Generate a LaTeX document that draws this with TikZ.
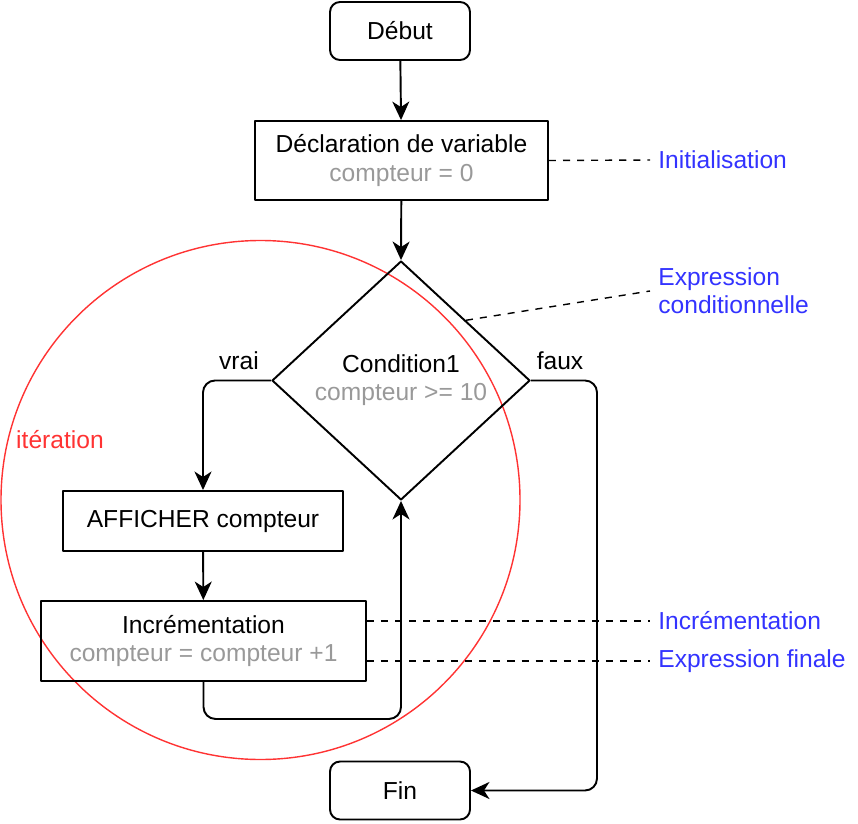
\documentclass[tikz,border=0pt]{standalone}
\usepackage{fontspec}
\setmainfont{Liberation Sans}
\usepackage[usenames]{xcolor}
\usetikzlibrary{arrows.meta,shapes.geometric,calc}
\definecolor{txtgrey}{HTML}{999999}
\definecolor{notablue}{HTML}{3333FF}
\definecolor{looped}{HTML}{FF3333}
\tikzset{
  etape/.style={draw,line width=1.1pt,minimum width=5.86cm,minimum height=1.58cm,align=center,inner sep=0pt},
  borne/.style={draw,line width=1.1pt,rounded corners=0.2cm,minimum width=2.8cm,minimum height=1.16cm,inner sep=0pt},
  fleche/.style={-{Stealth[length=0.37cm,width=0.34cm,inset=0.11cm]},line width=1.1pt,rounded corners=0.24cm},
  renvoi/.style={dash pattern=on 4pt off 4pt,line width=0.8pt},
  note/.style={anchor=west,text=notablue,align=left,inner sep=0pt}
}
\begin{document}
\begin{tikzpicture}[line cap=butt,line join=round,x=0.02cm,y=-0.02cm,font=\fontsize{14}{16}\selectfont]
\useasboundingbox (0,0) rectangle (858,824);
\draw[color=looped,line width=0.8pt] (260.5,500) circle (259.5);
\node[borne] (debut) at (400,31) {Début};
\node[etape] (decl) at (401.5,160.5) {Déclaration de variable\\\textcolor{txtgrey}{compteur = 0}};
\node[draw,line width=1.1pt,diamond,aspect=1.08,minimum width=5.16cm,minimum height=4.78cm,inner sep=0pt,align=center] (cond) at (401,380.5) {Condition1\\\textcolor{txtgrey}{compteur >= 10}};
\node[etape,minimum width=5.6cm,minimum height=1.2cm] (aff) at (203,521) {AFFICHER compteur};
\node[etape,minimum width=6.5cm,minimum height=1.6cm] (incr) at (203.5,641) {Incrémentation\\\textcolor{txtgrey}{compteur = compteur +1}};
\node[borne] (fin) at (400,790.5) {Fin};
\draw[fleche] (debut) -- (decl);
\draw[fleche] (decl) -- (cond.north);
\draw[fleche] (cond.west) -| (aff.north);
\draw[fleche] (aff) -- (incr);
\draw[fleche] (incr.south) -- ++(0,37) -| (cond.south);
\draw[fleche] (cond.east) -| (597,700) |- (fin.east);
\node (vrai) at (239,361) {vrai};
\node (faux) at (560,361) {faux};
\node[text=looped] (iter) at (60,440) {itération};
\node[note] (ninit) at (658,160) {Initialisation};
\node[note] (ncond) at (658,291) {Expression\\conditionnelle};
\node[note] (nincr) at (658,621) {Incrémentation};
\node[note] (nfin) at (658,661) {Expression finale};
\draw[renvoi] (decl.east) -- ($(ninit.west)+(-8,0)$);
\draw[renvoi] ($(cond.north)!0.5!(cond.east)$) -- ($(ncond.west)+(-8,0)$);
\draw[renvoi] (incr.east|-nincr) -- ($(nincr.west)+(-8,0)$);
\draw[renvoi] (incr.east|-nfin) -- ($(nfin.west)+(-8,0)$);
\end{tikzpicture}
\end{document}
